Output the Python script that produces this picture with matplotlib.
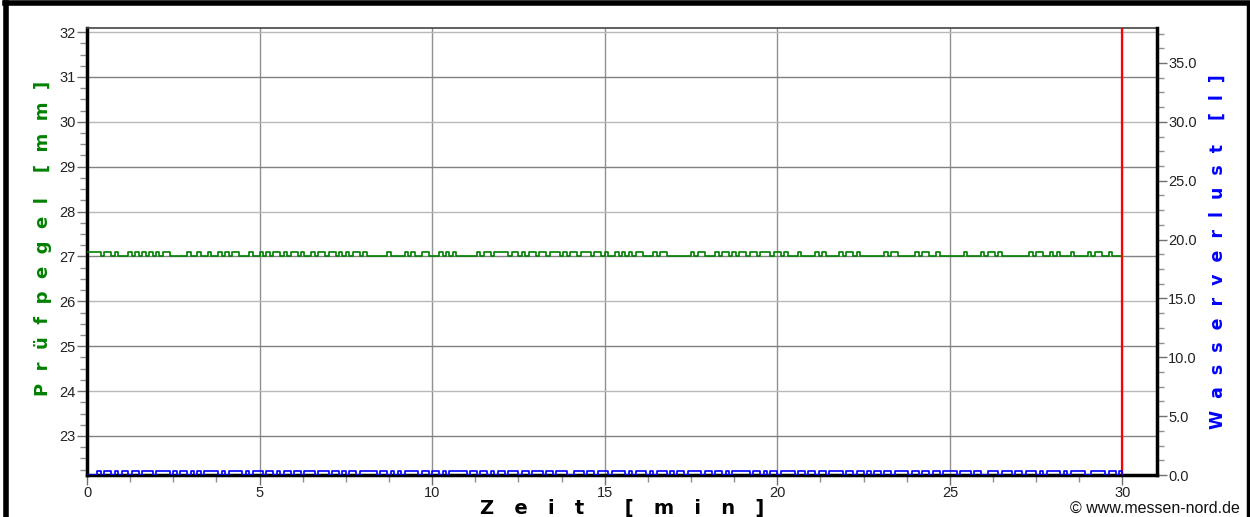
import numpy as np
import matplotlib.pyplot as plt
from matplotlib.ticker import MultipleLocator, FormatStrFormatter
from matplotlib.lines import Line2D

# time axis (minutes), one sample every 0.1 min
step = 0.1

# Prüfpegel: 1 = upper level, 0 = base level (read per minute, 10 samples each)
pegel_bits = [
    "1111011010", "0010101010", "1011000001", "0010010010", "1011000100",
    "1010110101", "1010010110", "1101010110", "1000000100", "0010100110",
    "0010101000", "0001011011", "1101101011", "0110111010", "1101110110",
    "1001010101", "1000101100", "0000010110", "0010110101", "1011011101",
    "1010001000", "0101000010", "1101000000", "0101100000", "1011001000",
    "0000100001", "0110100000", "0001011001", "0100010000", "1011001000",
]
pegel_low = 27.0
pegel_high = 27.1

# Wasserverlust
wasser_bits = [
    "0001011010", "1101101110", "1111010110", "1010111101", "0111101011",
    "1011010110", "1101110111", "0110101101", "1111011010", "1011110110",
    "1101011111", "0110110101", "1011101101", "1101101110", "0111011011",
    "1011110101", "1101011101", "0110111101", "1011010111", "1101101011",
    "0111101101", "1011011110", "1101101011", "0110111101", "1011011011",
    "1101110110", "0111011101", "1011101011", "1101011110", "0111101101",
]
wasser_low = 0.0
wasser_high = 0.35

end_time = 30.0

pb = np.array([int(c) for c in "".join(pegel_bits)] + [0])
wb = np.array([int(c) for c in "".join(wasser_bits)] + [0])
t = np.arange(len(pb)) * step
pegel = pegel_low + pb * (pegel_high - pegel_low)
wasser = wasser_low + wb * (wasser_high - wasser_low)

plt.rcParams['font.family'] = ['Liberation Sans', 'DejaVu Sans']

fig = plt.figure(figsize=(12.5, 5.17), dpi=100)
ax = fig.add_axes([0.0696, 0.0812, 0.8560, 0.8646])
ax2 = ax.twinx()

ax.step(t, pegel, where='post', color='#008000', lw=1.2, zorder=3)
ax2.step(t, wasser, where='post', color='#0000ff', lw=1.2, zorder=3)
ax.axvline(end_time, color='#ff0000', lw=1.6, zorder=4)

ax.set_xlim(0, 31)
ax.set_ylim(22.13, 32.09)
ax2.set_ylim(0, 37.97)

ax.xaxis.set_major_locator(MultipleLocator(5))
ax.xaxis.set_minor_locator(MultipleLocator(1.25))
ax.yaxis.set_major_locator(MultipleLocator(1))
ax.yaxis.set_minor_locator(MultipleLocator(0.25))
ax2.yaxis.set_major_locator(MultipleLocator(5))
ax2.yaxis.set_minor_locator(MultipleLocator(1.25))
ax2.yaxis.set_major_formatter(FormatStrFormatter('%.1f'))

ax.grid(True, which='major', color='#909090', lw=1.0)
ax.set_axisbelow(True)
for i, gl in enumerate(ax.get_ygridlines()):
    gl.set_color('#b8b8b8' if i % 2 == 0 else '#808080')

for a in (ax, ax2):
    a.tick_params(which='major', length=7, width=1, color='#707070',
                  labelsize=10.5, labelcolor='#222222', pad=1)
    a.tick_params(which='minor', length=5, width=1, color='#909090')
    for s in a.spines.values():
        s.set_visible(False)

ax.spines['left'].set_visible(True)
ax.spines['left'].set_linewidth(2.5)
ax.spines['bottom'].set_visible(True)
ax.spines['bottom'].set_linewidth(2.5)
ax.spines['top'].set_visible(True)
ax.spines['top'].set_linewidth(1.2)
ax.spines['top'].set_color('#444444')
ax2.spines['right'].set_visible(True)
ax2.spines['right'].set_linewidth(2.5)

ax.set_xlabel('Z   e   i   t      [   m   i   n   ]', fontsize=14,
              fontweight='bold', family=['DejaVu Sans'], labelpad=-1)
ax.set_ylabel('P  r  ü  f  p  e  g  e  l    [  m  m  ]', fontsize=13,
              fontweight='bold', color='#008000', family=['DejaVu Sans'])
ax.yaxis.set_label_coords(-0.033, 0.53)
ax2.set_ylabel('W  a  s  s  e  r  v  e  r  l  u  s  t    [  l  ]',
               fontsize=12.5, fontweight='bold', color='#0000ff',
               family=['DejaVu Sans'], labelpad=9)

fig.text(0.992, 0.003, '© www.messen-nord.de', ha='right', va='bottom',
         fontsize=11.5, color='#111111')

# outer frame
fig.add_artist(Line2D([0.004, 0.998], [0.995, 0.995], color='black', lw=4))
fig.add_artist(Line2D([0.005, 0.005], [0.0, 0.995], color='black', lw=4))
fig.add_artist(Line2D([0.998, 0.998], [0.0, 0.995], color='black', lw=2.5))

fig.savefig('out.png', dpi=100)
plt.close()
